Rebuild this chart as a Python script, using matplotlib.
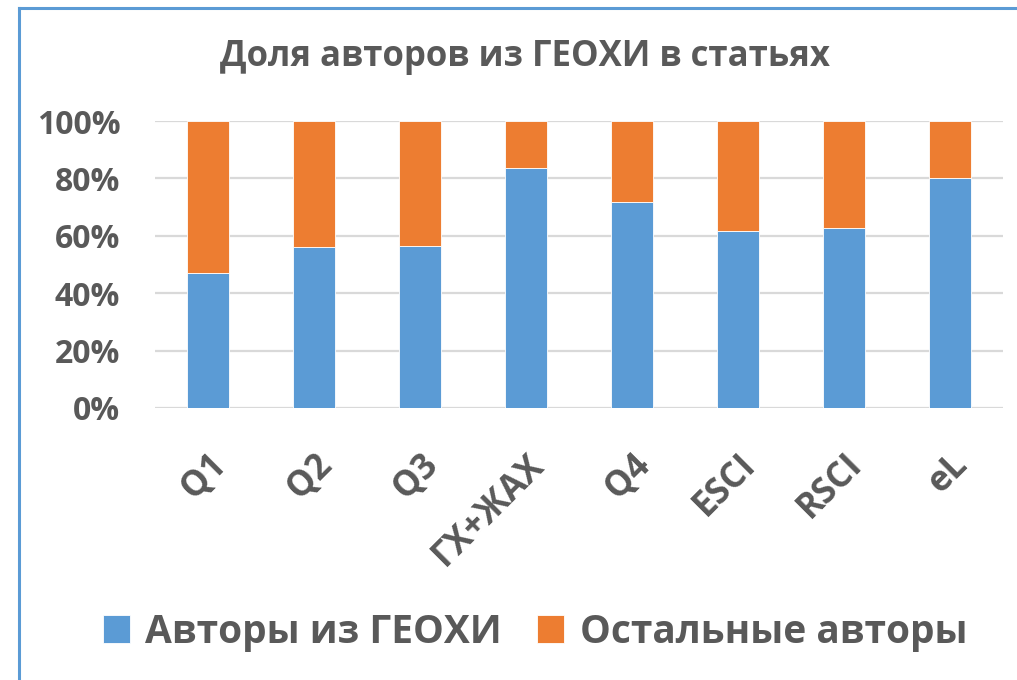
import matplotlib.pyplot as plt
from matplotlib.lines import Line2D

categories = ['Q1', 'Q2', 'Q3', 'ГХ+ЖАХ', 'Q4', 'ESCI', 'RSCI', 'eL']
geokhi = [47.0, 56.1, 56.4, 83.5, 71.9, 61.7, 62.7, 80.1]
others = [100 - v for v in geokhi]
y_ticks = [0, 20, 40, 60, 80, 100]

blue = '#5B9BD5'
orange = '#ED7D31'
txt = '#595959'

plt.rcParams['font.family'] = ['Open Sans', 'DejaVu Sans']
plt.rcParams['font.weight'] = 'bold'

fig = plt.figure(figsize=(10.17, 6.8), dpi=100)
ax = fig.add_axes([155 / 1017, 1 - 408 / 680, 848 / 1017, 287 / 680])

x = range(len(categories))
ax.bar(x, geokhi, width=0.4, color=blue, edgecolor='white', linewidth=0.6,
       label='Авторы из ГЕОХИ', zorder=3)
ax.bar(x, others, width=0.4, bottom=geokhi, color=orange, edgecolor='white',
       linewidth=0.6, label='Остальные авторы', zorder=3)

ax.set_xlim(-0.5, len(categories) - 0.5)
ax.set_ylim(0, 100)
ax.set_yticks(y_ticks)
ax.set_yticklabels([f'{v}%' for v in y_ticks])
ax.yaxis.grid(True, color='#D9D9D9', linewidth=1.6, zorder=0)
for s in ax.spines.values():
    s.set_visible(False)
ax.tick_params(axis='y', length=0, colors=txt, labelsize=23, pad=25)
ax.set_xticks(list(x))
ax.set_xticklabels(categories, rotation=45, ha='right', rotation_mode='anchor')
ax.tick_params(axis='x', length=0, colors=txt, labelsize=25, pad=28)

fig.text(525 / 1017, 1 - 57 / 680, 'Доля авторов из ГЕОХИ в статьях',
         ha='center', va='center', fontsize=25, color=txt, fontweight='bold')

fig.legend(loc='center', bbox_to_anchor=(535 / 1017, 1 - 632 / 680), ncol=2,
           frameon=False, fontsize=28, labelcolor=txt, handlelength=0.7,
           handleheight=0.7, handletextpad=0.4, columnspacing=0.9)

# frame lines on left and top
fig.add_artist(Line2D([19 / 1017, 19 / 1017], [0, 1 - 8 / 680], color=blue, linewidth=2.2))
fig.add_artist(Line2D([19 / 1017, 1], [1 - 8 / 680, 1 - 8 / 680], color=blue, linewidth=2.2))

fig.savefig('out.png', dpi=100)
